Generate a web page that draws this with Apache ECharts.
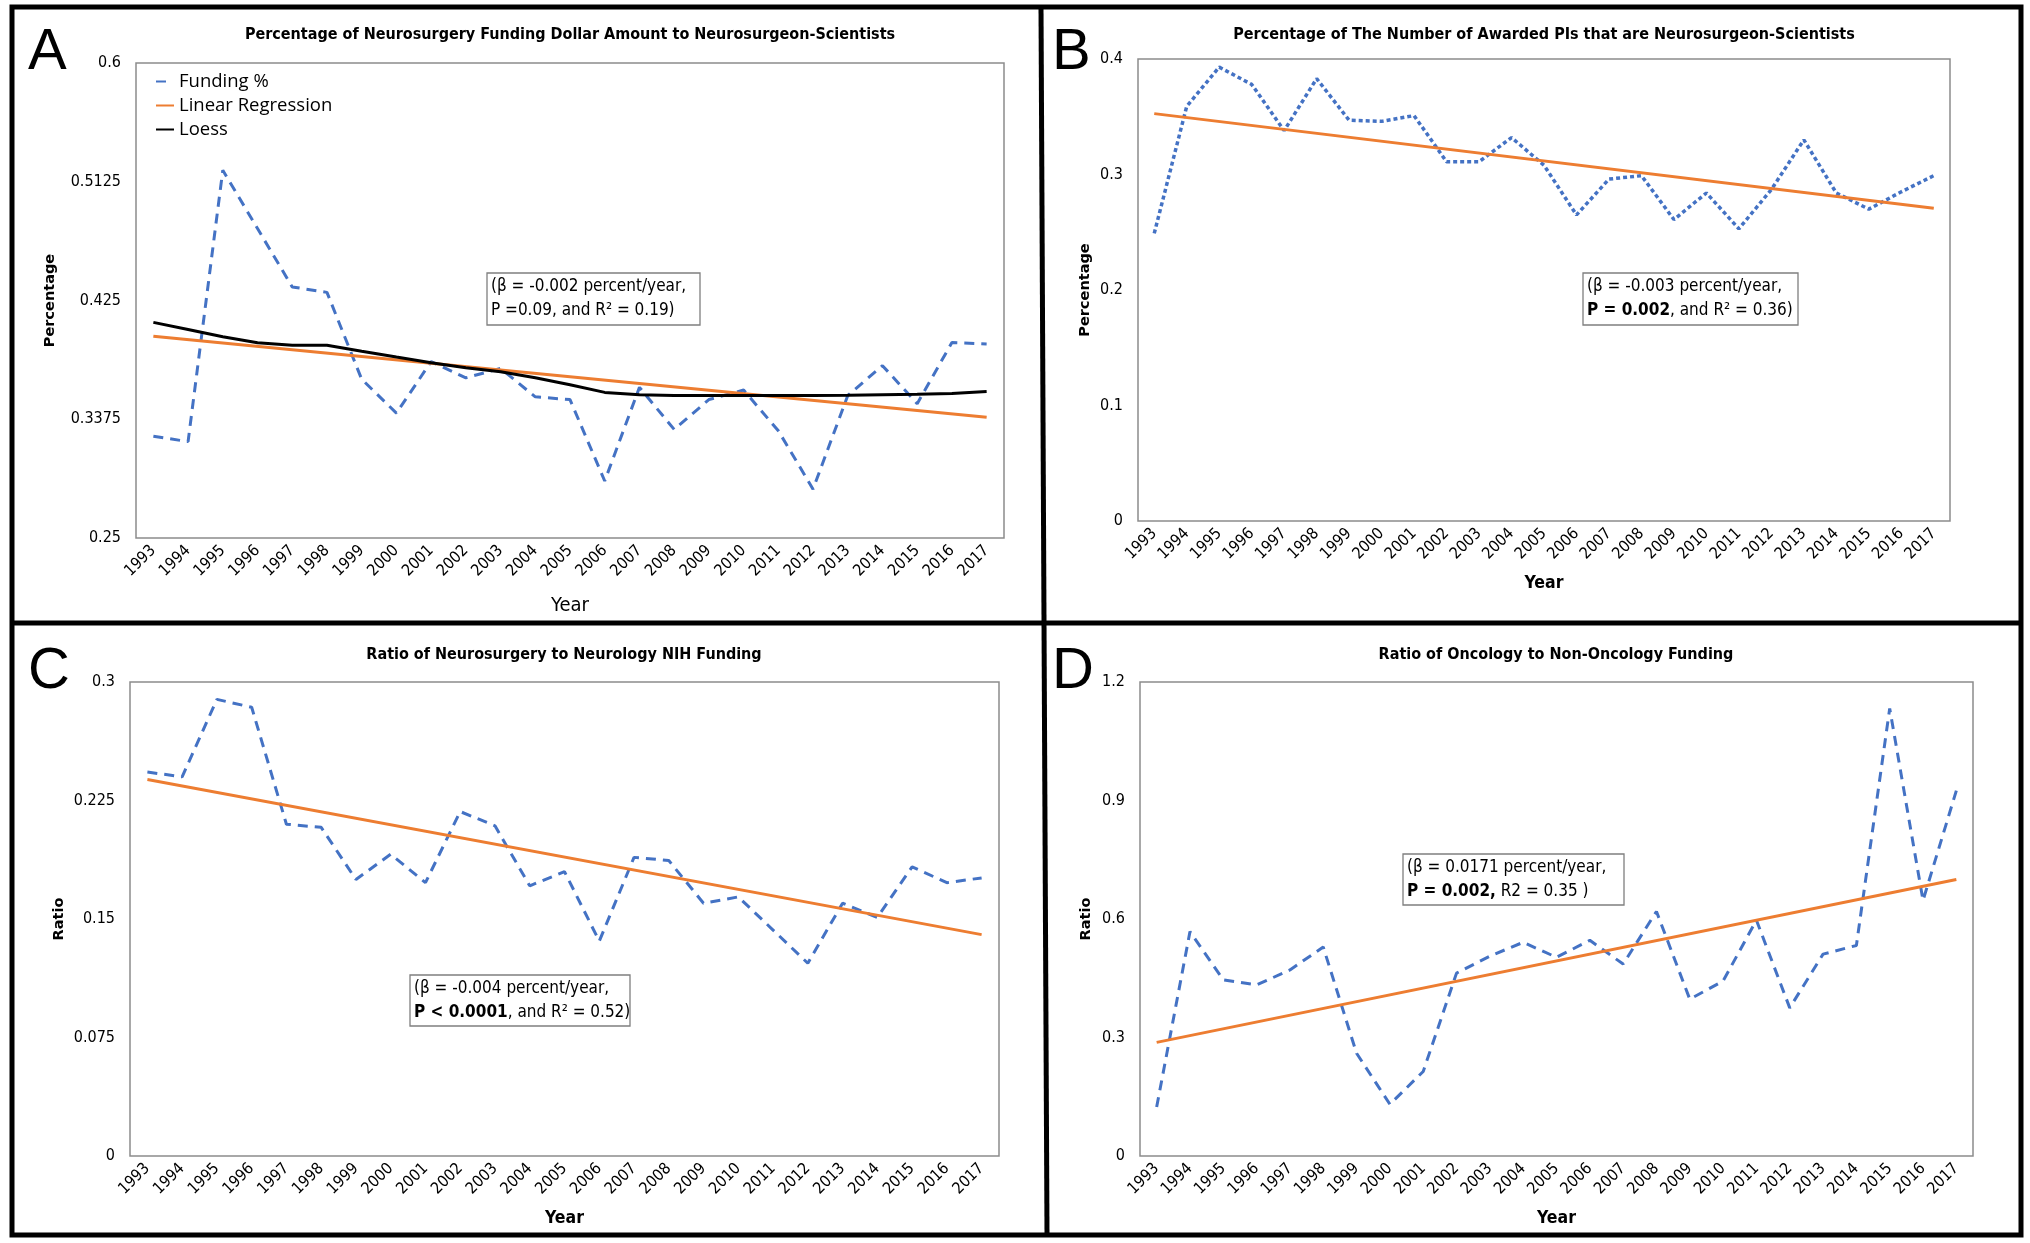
<!DOCTYPE html>
<html>
<head>
<meta charset="utf-8">
<script src="https://cdn.jsdelivr.net/npm/echarts@6/dist/echarts.min.js"></script>
<style>
  html, body { margin: 0; padding: 0; background: #fff; }
  #chart { width: 2030px; height: 1243px; }
</style>
</head>
<body>
<div id="chart"></div>
<script>
// ---------------- data ----------------
const years = ['1993','1994','1995','1996','1997','1998','1999','2000','2001','2002','2003','2004','2005',
               '2006','2007','2008','2009','2010','2011','2012','2013','2014','2015','2016','2017'];

// Panel A: Percentage of neurosurgery funding dollar amount to neurosurgeon-scientists
const fundingA = [0.325, 0.321, 0.521, 0.478, 0.435, 0.431, 0.367, 0.342, 0.380, 0.368, 0.375, 0.354, 0.352,
                  0.292, 0.361, 0.330, 0.352, 0.359, 0.329, 0.286, 0.355, 0.377, 0.349, 0.394, 0.393];
const regA = [0.3987, 0.3389];
const loessA = [0.4089, 0.4036, 0.3983, 0.3939, 0.3920, 0.3920, 0.3876, 0.3833, 0.3792, 0.3754, 0.3725, 0.3681, 0.3629,
                0.3573, 0.3556, 0.3550, 0.3550, 0.3550, 0.3550, 0.3550, 0.3552, 0.3556, 0.3559, 0.3565, 0.3579];
const yTicksA = [0.25, 0.3375, 0.425, 0.5125, 0.6];

// Panel B: Percentage of awarded PIs that are neurosurgeon-scientists
const pisB = [0.249, 0.359, 0.393, 0.378, 0.338, 0.383, 0.347, 0.346, 0.351, 0.311, 0.311, 0.332, 0.308,
              0.265, 0.296, 0.299, 0.261, 0.284, 0.253, 0.287, 0.330, 0.284, 0.270, 0.285, 0.299];
const regB = [0.3527, 0.2708];

// Panel C: Ratio of neurosurgery to neurology NIH funding
const ratioC = [0.243, 0.240, 0.289, 0.284, 0.210, 0.208, 0.175, 0.191, 0.173, 0.218, 0.209, 0.171, 0.180,
                0.136, 0.189, 0.187, 0.160, 0.164, 0.143, 0.122, 0.160, 0.151, 0.183, 0.173, 0.176];
const regC = [0.2383, 0.1401];

// Panel D: Ratio of oncology to non-oncology funding
const oncD = [0.124, 0.568, 0.446, 0.433, 0.471, 0.529, 0.260, 0.131, 0.214, 0.463, 0.506, 0.541, 0.503,
              0.546, 0.486, 0.619, 0.397, 0.443, 0.597, 0.375, 0.511, 0.533, 1.133, 0.647, 0.925];
const regD = [0.2877, 0.7001];

const titles = [
  'Percentage of Neurosurgery Funding Dollar Amount to Neurosurgeon-Scientists',
  'Percentage of The Number of Awarded PIs that are Neurosurgeon-Scientists',
  'Ratio of Neurosurgery to Neurology NIH Funding',
  'Ratio of Oncology to Non-Oncology Funding'
];

// ---------------- styling ----------------
const NARROW = '"Liberation Sans Narrow", "DejaVu Sans Condensed", sans-serif';
const BLUE = '#4472C4', ORANGE = '#ED7D31';

const grids = [
  { left: 136,  top: 63,  width: 868, height: 475 },
  { left: 1138, top: 59,  width: 812, height: 462 },
  { left: 130,  top: 682, width: 869, height: 474 },
  { left: 1140, top: 682, width: 833, height: 474 }
].map(g => Object.assign({ show: true, borderColor: '#8c8c8c', borderWidth: 1.5, backgroundColor: '#fff' }, g));

function xAxis(i, bold, gap) {
  return {
    type: 'category', gridIndex: i, data: years, boundaryGap: true,
    axisLine: { show: false }, axisTick: { show: false },
    axisLabel: { rotate: 45, interval: 0, margin: 10, fontSize: 16, fontFamily: NARROW, color: '#000' },
    name: 'Year', nameLocation: 'middle', nameGap: gap,
    nameTextStyle: { fontSize: bold ? 17.5 : 20, fontFamily: NARROW, fontWeight: bold ? 'bold' : 'normal', color: '#000' }
  };
}
function yAxis(i, name, min, max, interval, gap, custom) {
  const ax = {
    type: 'value', gridIndex: i, min: min, max: max,
    splitLine: { show: false }, axisLine: { show: false }, axisTick: { show: false },
    axisLabel: { margin: 15, fontSize: 16, fontFamily: NARROW, color: '#000' },
    name: name, nameLocation: 'middle', nameGap: gap, nameRotate: 90,
    nameTextStyle: { fontSize: 14.5, fontFamily: '"DejaVu Sans", sans-serif', fontWeight: 'bold', color: '#000' }
  };
  if (custom) { ax.axisLabel.customValues = custom; ax.axisTick.customValues = custom; }
  else { ax.interval = interval; }
  return ax;
}

function dashed(name, i, data, dash, width) {
  return { name: name, type: 'line', xAxisIndex: i, yAxisIndex: i, data: data, symbol: 'none', z: 3,
           lineStyle: { color: BLUE, width: width, type: dash }, itemStyle: { color: BLUE } };
}
function regLine(name, i, ends) {
  return { name: name, type: 'line', xAxisIndex: i, yAxisIndex: i, symbol: 'none', z: 4,
           data: [[years[0], ends[0]], [years[years.length - 1], ends[1]]],
           lineStyle: { color: ORANGE, width: 3 }, itemStyle: { color: ORANGE } };
}

// annotation boxes
function annot(x, y, w, h, lines) {
  return {
    type: 'group', x: x, y: y, z: 10,
    children: [
      { type: 'rect', shape: { x: 0, y: 0, width: w, height: h },
        style: { fill: '#fff', stroke: '#7f7f7f', lineWidth: 1.3 } },
      { type: 'text', x: 4, y: h / 2,
        style: { text: lines, verticalAlign: 'middle', align: 'left',
                 fontSize: 17, fontFamily: NARROW, fill: '#000', lineHeight: 24,
                 rich: { b: { fontWeight: 'bold', fontSize: 17, fontFamily: NARROW, lineHeight: 24 } } } }
    ]
  };
}
function letter(ch, x, y) {
  return { type: 'text', x: x, y: y, z: 10,
           style: { text: ch, fontSize: 58, fontFamily: '"Liberation Sans", Arial, sans-serif',
                    fill: '#000', verticalAlign: 'middle', align: 'left' } };
}
function title(t, x, y) {
  return { type: 'text', x: x, y: y, z: 10,
           style: { text: t, fontSize: 16, fontWeight: 'bold', fontFamily: NARROW,
                    fill: '#000', align: 'center', verticalAlign: 'middle' } };
}

const option = {
  animation: false,
  backgroundColor: '#fff',
  grid: grids,
  xAxis: [xAxis(0, false, 58), xAxis(1, true, 53), xAxis(2, true, 53), xAxis(3, true, 53)],
  yAxis: [
    yAxis(0, 'Percentage', 0.25, 0.6, null, 78, yTicksA),
    yAxis(1, 'Percentage', 0, 0.4, 0.1, 45),
    yAxis(2, 'Ratio', 0, 0.3, 0.075, 63),
    yAxis(3, 'Ratio', 0, 1.2, 0.3, 46)
  ],
  legend: {
    data: [
      { name: 'Funding %', lineStyle: { type: [10, 12] } },
      { name: 'Linear Regression' },
      { name: 'Loess' }
    ],
    orient: 'vertical', left: 155, top: 72, padding: 0,
    itemWidth: 18, itemHeight: 14, itemGap: 5,
    itemStyle: { opacity: 0, color: 'rgba(0,0,0,0)', borderWidth: 0 },
    textStyle: { fontSize: 18.5, fontFamily: '"Open Sans", sans-serif', color: '#000', lineHeight: 19 }
  },
  series: [
    dashed('Funding %', 0, fundingA, [10, 7], 3),
    regLine('Linear Regression', 0, regA),
    { name: 'Loess', type: 'line', xAxisIndex: 0, yAxisIndex: 0, data: loessA, symbol: 'none', z: 5,
      lineStyle: { color: '#000', width: 3 }, itemStyle: { color: '#000' } },
    dashed('PIs %', 1, pisB, [4, 3], 3.5),
    regLine('Regression B', 1, regB),
    dashed('Ratio C', 2, ratioC, [10, 7], 3),
    regLine('Regression C', 2, regC),
    dashed('Ratio D', 3, oncD, [10, 7], 3),
    regLine('Regression D', 3, regD)
  ],
  graphic: [
    { type: 'rect', z: 20, shape: { x: 12, y: 7, width: 2009, height: 1228 },
      style: { fill: 'none', stroke: '#000', lineWidth: 5 } },
    { type: 'line', z: 20, shape: { x1: 12, y1: 623, x2: 2021, y2: 623 }, style: { stroke: '#000', lineWidth: 5 } },
    { type: 'line', z: 20, shape: { x1: 1041, y1: 7, x2: 1047, y2: 1235 }, style: { stroke: '#000', lineWidth: 5 } },
    letter('A', 28, 53), letter('B', 1052, 53), letter('C', 28, 672), letter('D', 1052, 672),
    title(titles[0], 570, 35), title(titles[1], 1544, 35), title(titles[2], 564, 655), title(titles[3], 1556, 655),
    annot(487, 273, 213, 52, '(β = -0.002 percent/year,\nP =0.09, and R² = 0.19)'),
    annot(1583, 273, 215, 52, '(β = -0.003 percent/year,\n{b|P = 0.002}, and R² = 0.36)'),
    annot(410, 975, 220, 51, '(β = -0.004 percent/year,\n{b|P < 0.0001}, and R² = 0.52)'),
    annot(1403, 854, 221, 51, '(β = 0.0171 percent/year,\n{b|P = 0.002,} R2 = 0.35 )')
  ]
};

const chart = echarts.init(document.getElementById('chart'), null, { renderer: 'canvas' });
chart.setOption(option);
</script>
</body>
</html>
